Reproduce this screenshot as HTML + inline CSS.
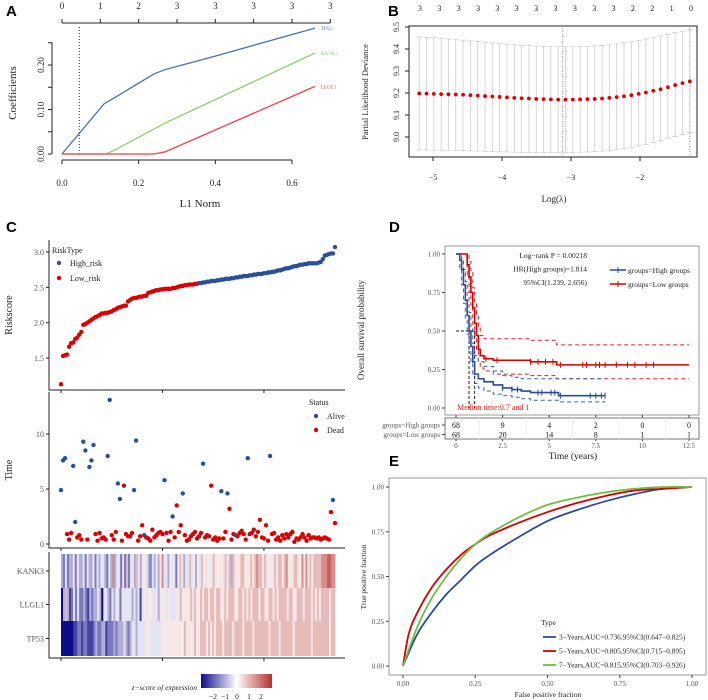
<!DOCTYPE html>
<html><head><meta charset="utf-8"><style>
html,body{margin:0;padding:0;background:#fff;}
svg{display:block;font-family:"Liberation Serif",serif;}
.lbl{font-family:"Liberation Sans",sans-serif;font-weight:bold;font-size:15px;}
</style></head><body>
<svg id="fig" width="708" height="700" viewBox="0 0 708 700" xmlns="http://www.w3.org/2000/svg">
<text class="lbl" x="6" y="16">A</text>
<text class="lbl" x="388" y="16">B</text>
<text class="lbl" x="6" y="232">C</text>
<text class="lbl" x="389" y="232">D</text>
<text class="lbl" x="389" y="466">E</text>
<g id="A"></g>
<g id="B"></g>
<g id="C"></g>
<g id="D"></g>
<g id="E"></g>
</svg>
<script>
// ---------- Panel A data ----------
const aTP53X=[0,0.11,0.14,0.24,0.27,0.4,0.66];
const aTP53Y=[0,0.113,0.128,0.18,0.19,0.22,0.283];
const aKANK3X=[0,0.115,0.14,0.27,0.66];
const aKANK3Y=[0,0,0.01,0.07,0.227];
const aLLGL1X=[0,0.24,0.27,0.66];
const aLLGL1Y=[0,0,0.005,0.152];
const aTopLabels=["0","1","2","3","3","3","3","3"];
const aXTicks=[0,0.2,0.4,0.6];
const aYTicks=["0.00","0.10","0.20"];
const aLambdaMin=0.045;
// ---------- Panel B data ----------
const bLogLambda=[-5.2,-5.094,-4.988,-4.882,-4.776,-4.67,-4.564,-4.458,-4.352,-4.246,-4.14,-4.034,-3.928,-3.822,-3.716,-3.61,-3.504,-3.398,-3.292,-3.186,-3.08,-2.974,-2.868,-2.762,-2.656,-2.55,-2.444,-2.338,-2.232,-2.126,-2.02,-1.914,-1.808,-1.702,-1.596,-1.49,-1.384,-1.278];
const bDev=[9.198,9.197,9.196,9.195,9.194,9.193,9.192,9.19,9.188,9.186,9.184,9.182,9.18,9.178,9.176,9.175,9.173,9.172,9.171,9.17,9.17,9.17,9.171,9.172,9.173,9.175,9.178,9.181,9.185,9.19,9.196,9.202,9.21,9.217,9.226,9.236,9.245,9.253];
const bUpper=[9.455,9.453,9.451,9.449,9.446,9.443,9.44,9.437,9.434,9.431,9.428,9.425,9.422,9.419,9.417,9.415,9.413,9.412,9.411,9.41,9.41,9.41,9.411,9.412,9.414,9.416,9.419,9.423,9.428,9.433,9.439,9.445,9.452,9.459,9.466,9.474,9.481,9.487];
const bLower=[8.941,8.941,8.94,8.94,8.939,8.939,8.938,8.937,8.936,8.935,8.934,8.933,8.932,8.931,8.93,8.93,8.93,8.93,8.93,8.93,8.93,8.93,8.931,8.932,8.934,8.936,8.939,8.943,8.948,8.954,8.96,8.967,8.975,8.984,8.993,9.003,9.012,9.02];
const bTopLabels=["3","3","3","3","3","3","3","3","3","3","3","2","2","1","0"];
const bXTicks=[-5,-4,-3,-2];
const bYTicks=[9.0,9.1,9.2,9.3,9.4,9.5];
const bVLines=[-3.12,-1.278];
// ---------- Panel C data ----------
const cRisk=[1.13,1.53,1.54,1.55,1.66,1.71,1.72,1.77,1.79,1.83,
1.87,1.97,1.98,2.00,2.02,2.04,2.06,2.08,2.09,2.11,
2.13,2.13,2.14,2.14,2.15,2.16,2.18,2.19,2.21,2.22,
2.23,2.24,2.24,2.30,2.32,2.34,2.35,2.35,2.36,2.37,
2.37,2.38,2.38,2.42,2.43,2.44,2.45,2.46,2.46,2.47,
2.47,2.48,2.48,2.48,2.48,2.49,2.49,2.50,2.51,2.52,
2.52,2.53,2.53,2.54,2.54,2.54,2.55,2.55,2.56,2.56,
2.57,2.57,2.58,2.58,2.59,2.59,2.59,2.60,2.60,2.61,
2.61,2.62,2.62,2.62,2.63,2.63,2.64,2.64,2.65,2.65,
2.66,2.66,2.66,2.67,2.67,2.68,2.68,2.69,2.69,2.69,
2.70,2.70,2.71,2.71,2.72,2.72,2.73,2.74,2.74,2.75,
2.76,2.77,2.77,2.78,2.79,2.80,2.80,2.81,2.82,2.82,
2.83,2.83,2.84,2.84,2.84,2.84,2.84,2.85,2.86,2.90,
2.95,2.96,2.97,2.98,2.98,3.07];
const cLowCount=68;
const cTime=[4.9,7.6,7.8,0.9,0.4,1.0,7.1,2.0,0.6,0.8,
0.4,9.3,8.5,0.4,7.0,7.6,9.0,0.9,0.3,1.0,
0.5,0.6,0.4,8.0,13.1,0.8,0.4,1.1,5.5,4.1,
0.3,5.3,0.9,0.7,0.7,1.0,4.9,9.4,0.3,0.7,
1.7,0.8,0.6,0.5,0.3,1.3,0.6,0.8,1.0,1.1,
0.9,5.8,1.0,0.3,1.1,2.5,0.6,3.5,1.1,1.7,
4.6,0.8,0.3,0.4,0.7,0.9,1.1,0.5,0.7,1.0,
7.3,0.6,0.8,0.7,5.3,0.4,0.6,0.3,0.5,4.8,
0.5,1.1,4.6,3.2,0.4,0.9,0.8,0.7,1.0,1.2,
0.9,0.4,7.8,0.9,1.0,1.3,0.7,1.1,2.2,0.6,
0.5,1.7,0.3,8.0,0.9,1.0,0.4,0.6,0.3,0.8,
0.5,0.9,0.6,0.9,1.1,0.2,0.5,0.4,0.6,0.9,
0.6,0.3,0.8,0.5,0.6,0.6,0.5,0.6,0.4,0.5,
0.6,0.5,0.4,2.9,4.0,1.9];
const cAliveIdx=[0,1,2,6,7,11,12,14,15,16,23,24,28,29,36,37,41,51,55,60,70,79,82,86,92,103,134];
const cGenes=["KANK3","LLGL1","TP53"];
const cHeatKANK3="3242334253342433524344324373442426244364355432435357443544256534464535465455465555465636555665556567665645556566567555665575756566667778877";
const cHeatLLGL1="0363124242232132335304432435424444434341454554443555454445465555646556566566566556566655665656566656655665656666566556665666565656666566";
const cHeatTP53="0000001122122111232233122232333432344344445544444455555555555655556556665656566656666566665666656666666566665666666566666666566666666566";
// ---------- Panel D data ----------
const dHighT=[0,0.2,0.3,0.4,0.5,0.6,0.7,0.8,0.9,1.0,1.2,1.5,2.0,2.5,3.0,3.5,4.0,5.5,8.0];
const dHighS=[1,0.96,0.9,0.8,0.7,0.6,0.5,0.4,0.3,0.22,0.19,0.17,0.15,0.13,0.12,0.11,0.10,0.08,0.08];
const dHighU=[1,1,0.97,0.9,0.82,0.72,0.62,0.52,0.42,0.34,0.3,0.27,0.24,0.21,0.2,0.19,0.19,0.19,0.19];
const dHighL=[1,0.9,0.8,0.68,0.58,0.48,0.38,0.3,0.22,0.16,0.13,0.11,0.09,0.08,0.07,0.06,0.05,0.04,0.04];
const dLowT=[0,0.6,0.7,0.8,0.9,1.0,1.1,1.2,1.3,1.5,2.0,4.0,5.4,12.5];
const dLowS=[1,0.93,0.85,0.75,0.65,0.55,0.47,0.38,0.34,0.32,0.31,0.30,0.28,0.28];
const dLowU=[1,1,0.95,0.88,0.78,0.68,0.6,0.52,0.47,0.45,0.45,0.44,0.41,0.41];
const dLowL=[1,0.85,0.75,0.65,0.54,0.45,0.38,0.3,0.26,0.24,0.22,0.21,0.19,0.19];
const dHighCens=[2.5,3.0,3.3,4.4,4.6,5.1,5.3,5.6,7.2,7.5,7.8,8.0];
const dLowCens=[1.6,2.2,4.0,4.4,4.8,5.2,5.6,6.8,7.0,7.5,7.7,8.0,8.6,9.2,9.6,10.2,10.6];
const dXTicks=[0,2.5,5,7.5,10,12.5];
const dXTickLabels=["0","2.5","5","7.5","10","12.5"];
const dYTicks=[0,0.25,0.5,0.75,1];
const dYTickLabels=["0.00","0.25","0.50","0.75","1.00"];
const dRiskHigh=[68,9,4,2,0,0];
const dRiskLow=[68,20,14,8,1,1];
const dMedians=[0.7,1.0];
// ---------- Panel E data ----------
const e3X=[0,0.05,0.1,0.15,0.2,0.25,0.3,0.4,0.5,0.6,0.7,0.8,0.9,1];
const e3Y=[0,0.18,0.3,0.4,0.48,0.56,0.62,0.72,0.81,0.87,0.92,0.96,0.99,1];
const e5X=[0,0.02,0.05,0.1,0.15,0.2,0.25,0.3,0.4,0.5,0.6,0.7,0.8,0.9,1];
const e5Y=[0,0.18,0.3,0.44,0.54,0.62,0.68,0.73,0.8,0.86,0.91,0.95,0.98,0.99,1];
const e7X=[0,0.05,0.1,0.15,0.2,0.25,0.3,0.4,0.5,0.6,0.7,0.8,0.9,1];
const e7Y=[0,0.22,0.38,0.5,0.6,0.68,0.74,0.83,0.9,0.94,0.97,0.99,1,1];
const eLegend=["3\u2212Years,AUC=0.736,95%CI(0.647\u22120.825)","5\u2212Years,AUC=0.805,95%CI(0.715\u22120.895)","7\u2212Years,AUC=0.815,95%CI(0.703\u22120.926)"];
const eTicks=[0,0.25,0.5,0.75,1];
const eTickLabels=["0.00","0.25","0.50","0.75","1.00"];

const NS="http://www.w3.org/2000/svg";
function el(tag,parent,attrs,text){const e=document.createElementNS(NS,tag);for(const k in attrs)e.setAttribute(k,attrs[k]);if(text!==undefined)e.textContent=text;parent.appendChild(e);return e;}
const BLUE="#2b4f9a";

// ===== Panel A =====
(function(){
const g=document.getElementById('A');
const x=v=>62+v*383.3, y=v=>154-v*445;
let e;
e=el('line',g,{x1:52,y1:43,x2:52,y2:154,stroke:'#222'});

for(let v=0;v<=0.25001;v+=0.05){el('line',g,{x1:48,y1:y(v),x2:52,y2:y(v),stroke:'#222'});}
aYTicks.forEach(s=>{e=el('text',g,{x:44,y:y(+s),'text-anchor':'middle',transform:`rotate(-90 44 ${y(+s)})`,style:'font-size:9px;fill:#222'},s);
});
e=el('line',g,{x1:x(0),y1:160,x2:x(0.6),y2:160,stroke:'#222'});

aXTicks.forEach(v=>{el('line',g,{x1:x(v),y1:160,x2:x(v),y2:164,stroke:'#222'});
e=el('text',g,{x:x(v),y:186,'text-anchor':'middle',style:'font-size:9px;fill:#222'},v.toFixed(1));
});
e=el('line',g,{x1:x(0),y1:23,x2:x(0.7),y2:23,stroke:'#222'});

aTopLabels.forEach((s,i)=>{el('line',g,{x1:x(i*0.1),y1:23,x2:x(i*0.1),y2:19,stroke:'#222'});
e=el('text',g,{x:x(i*0.1),y:9,'text-anchor':'middle',style:'font-size:9px;fill:#222'},s);
});
e=el('text',g,{x:200,y:207,'text-anchor':'middle',style:'font-size:11px;fill:#222'},'L1 Norm');

e=el('text',g,{x:16,y:93,'text-anchor':'middle',transform:'rotate(-90 16 93)',style:'font-size:11px;fill:#222'},'Coefficients');

e=el('line',g,{x1:x(aLambdaMin),y1:27,x2:x(aLambdaMin),y2:154,stroke:'#222','stroke-dasharray':'1,2'});

const series=[[aTP53X,aTP53Y,'#4a72b0','TP53'],[aKANK3X,aKANK3Y,'#8fcf6a','KANK3'],[aLLGL1X,aLLGL1Y,'#e8424a','LLGL1']];
series.forEach(s=>{const pts=s[0].map((v,i)=>x(v)+','+y(s[1][i])).join(' ');
e=el('polyline',g,{points:pts,fill:'none',stroke:s[2],'stroke-width':1.3});

const n=s[0].length-1;
e=el('text',g,{x:x(s[0][n])+6,y:y(s[1][n])+2,style:`font-size:5px;fill:${s[2]}`},s[3]);
});
})();

// ===== Panel B =====
(function(){
const g=document.getElementById('B');
const x=v=>571+(v+3)*69, y=v=>137-(v-9.0)*220;
let e=el('rect',g,{x:409,y:26,width:288,height:131,fill:'none',stroke:'#222'});

bXTicks.forEach(v=>{el('line',g,{x1:x(v),y1:157,x2:x(v),y2:161,stroke:'#222'});
e=el('text',g,{x:x(v),y:180,'text-anchor':'middle',style:'font-size:8px;fill:#222'},'\u2212'+Math.abs(v));
});
bYTicks.forEach(v=>{el('line',g,{x1:405,y1:y(v),x2:409,y2:y(v),stroke:'#222'});
e=el('text',g,{x:399,y:y(v),'text-anchor':'middle',transform:`rotate(-90 399 ${y(v)})`,style:'font-size:8px;fill:#222'},v.toFixed(1));
});
bTopLabels.forEach((s,i)=>{const xx=420+i*(691-420)/(bTopLabels.length-1);
e=el('text',g,{x:xx,y:11,'text-anchor':'middle',style:'font-size:8px;fill:#222'},s);
});
e=el('text',g,{x:554,y:202,'text-anchor':'middle',style:'font-size:9px;fill:#222'},'Log(\u03bb)');

e=el('text',g,{x:368,y:92,'text-anchor':'middle',transform:'rotate(-90 368 92)',style:'font-size:8.5px;fill:#222'},'Partial Likelihood Deviance');

bVLines.forEach(v=>{e=el('line',g,{x1:x(v),y1:26,x2:x(v),y2:157,stroke:'#888','stroke-dasharray':'1,1.5'});
});
bLogLambda.forEach((v,i)=>{const xx=x(v);
e=el('path',g,{d:`M${xx},${y(bLower[i])}V${y(bUpper[i])}M${xx-3},${y(bUpper[i])}H${xx+3}M${xx-3},${y(bLower[i])}H${xx+3}`,stroke:'#c8c8c8','stroke-width':0.7,fill:'none'});

e=el('circle',g,{cx:xx,cy:y(bDev[i]),r:1.9,fill:'#e00000'});
});
})();

// ===== Panel C =====
(function(){
const g=document.getElementById('C');
const n=cRisk.length;
const x=i=>61+i*(335-61)/(n-1);
const yr=v=>252-(v-3.0)*70.7;
const yt=v=>544-v*11;
let e;
e=el('path',g,{d:'M49,240V390H345',fill:'none',stroke:'#222'});

[1.5,2.0,2.5,3.0].forEach(v=>{el('line',g,{x1:46,y1:yr(v),x2:49,y2:yr(v),stroke:'#222'});
e=el('text',g,{x:44,y:yr(v)+3,'text-anchor':'end',style:'font-size:8px;fill:#555'},v.toFixed(1));
});
[0,50,100].forEach(i=>{el('line',g,{x1:x(i),y1:390,x2:x(i),y2:393,stroke:'#222'});});
e=el('text',g,{x:12,y:315,'text-anchor':'middle',transform:'rotate(-90 12 315)',style:'font-size:10px;fill:#222'},'Riskscore');

cRisk.forEach((v,i)=>{e=el('circle',g,{cx:x(i),cy:yr(v),r:2.2,fill:i<cLowCount?'#d90000':BLUE});
});
e=el('text',g,{x:52,y:253,style:'font-size:8px;fill:#222'},'RiskType');

e=el('circle',g,{cx:59,cy:263,r:2.2,fill:BLUE});
e=el('text',g,{x:70,y:266,style:'font-size:8px;fill:#222'},'High_risk');
e=el('circle',g,{cx:59,cy:278,r:2.2,fill:'#d90000'});
e=el('text',g,{x:70,y:281,style:'font-size:8px;fill:#222'},'Low_risk');
e=el('path',g,{d:'M49,392V548H345',fill:'none',stroke:'#222'});

[0,5,10].forEach(v=>{el('line',g,{x1:46,y1:yt(v),x2:49,y2:yt(v),stroke:'#222'});
e=el('text',g,{x:44,y:yt(v)+3,'text-anchor':'end',style:'font-size:8px;fill:#555'},String(v));
});
[0,50,100].forEach(i=>{el('line',g,{x1:x(i),y1:548,x2:x(i),y2:551,stroke:'#222'});});
e=el('text',g,{x:12,y:470,'text-anchor':'middle',transform:'rotate(-90 12 470)',style:'font-size:10px;fill:#222'},'Time');

cTime.forEach((v,i)=>{const alive=cAliveIdx.indexOf(i)>=0;
e=el('circle',g,{cx:x(i),cy:yt(v),r:2.2,fill:alive?BLUE:'#d90000'});
});
e=el('text',g,{x:309,y:405,style:'font-size:8px;fill:#222'},'Status');
e=el('circle',g,{cx:316,cy:416,r:2.2,fill:BLUE});
e=el('text',g,{x:327,y:419,style:'font-size:8px;fill:#222'},'Alive');
e=el('circle',g,{cx:316,cy:430,r:2.2,fill:'#d90000'});
e=el('text',g,{x:327,y:433,style:'font-size:8px;fill:#222'},'Dead');
function col(d){const z=(d-4.5)/4.5;const lo=[13,13,138],hi=[180,50,45],w=[255,255,255];
const t=Math.min(1,Math.abs(z));const c=z<0?lo:hi;
return 'rgb('+w.map((a,k)=>Math.round(a+(c[k]-a)*t)).join(',')+')';}
e=el('path',g,{d:'M49,552V658H345',fill:'none',stroke:'#222'});

[0,50,100].forEach(i=>{el('line',g,{x1:x(i),y1:658,x2:x(i),y2:661,stroke:'#222'});});
const rows=[cHeatKANK3,cHeatLLGL1,cHeatTP53];
const rowTop=[554,588,621],rowH=[34,33,35];
rows.forEach((s,r)=>{const w=(335-61)/s.length;
for(let i=0;i<s.length;i++){e=el('rect',g,{x:61+i*w,y:rowTop[r],width:w+0.4,height:rowH[r],fill:col(+s[i])});
}
el('line',g,{x1:46,y1:rowTop[r]+rowH[r]/2,x2:49,y2:rowTop[r]+rowH[r]/2,stroke:'#222'});
e=el('text',g,{x:44,y:rowTop[r]+rowH[r]/2+3,'text-anchor':'end',style:'font-size:8px;fill:#555'},cGenes[r]);
});
const grad=el('linearGradient',el('defs',g,{}),{id:'zg'});
[[0,'rgb(13,13,138)'],[0.5,'#fff'],[1,'rgb(180,50,45)']].forEach(s=>el('stop',grad,{offset:s[0],'stop-color':s[1]}));
e=el('rect',g,{x:201,y:674,width:71,height:14,fill:'url(#zg)'});

e=el('text',g,{x:197,y:690,'text-anchor':'end',style:'font-size:7.5px;font-style:italic;fill:#222'},'z\u2212score of expression');

[-2,-1,0,1,2].forEach(v=>{e=el('text',g,{x:237+v*12,y:699,'text-anchor':'middle',style:'font-size:7.5px;fill:#222'},v<0?'\u2212'+(-v):String(v));
});
})();

// ===== Panel D =====
(function(){
const g=document.getElementById('D');
const x=t=>456+t*18.64, y=s=>408-s*154;
let e=el('rect',g,{x:445,y:246,width:254,height:169,fill:'none',stroke:'#999'});

dYTicks.forEach((v,i)=>{el('line',g,{x1:442,y1:y(v),x2:445,y2:y(v),stroke:'#444'});
e=el('text',g,{x:440,y:y(v)+2.5,'text-anchor':'end',style:'font-size:7px;fill:#555'},dYTickLabels[i]);
});
dXTicks.forEach(v=>{el('line',g,{x1:x(v),y1:415,x2:x(v),y2:418,stroke:'#444'});});
e=el('text',g,{x:364,y:330,'text-anchor':'middle',transform:'rotate(-90 364 330)',style:'font-size:9px;fill:#222'},'Overall survival probability');

function step(T,S){let d=`M${x(T[0])},${y(S[0])}`;for(let i=1;i<T.length;i++){d+=`H${x(T[i])}V${y(S[i])}`;}return d;}
function interp(T,S,t){let s=S[0];for(let i=0;i<T.length;i++){if(T[i]<=t)s=S[i];}return s;}
[[dLowT,dLowU,'#e02020'],[dLowT,dLowL,'#e02020'],[dHighT,dHighU,'#3a5fb0'],[dHighT,dHighL,'#3a5fb0']].forEach(c=>{
e=el('path',g,{d:step(c[0],c[1]),fill:'none',stroke:c[2],'stroke-width':1,'stroke-dasharray':'4,3'});
});
e=el('path',g,{d:`M${x(0)},${y(0.5)}H${x(dMedians[1])}M${x(dMedians[0])},${y(0.5)}V${y(0)}M${x(dMedians[1])},${y(0.5)}V${y(0)}`,fill:'none',stroke:'#222','stroke-dasharray':'3,2'});

e=el('path',g,{d:step(dLowT,dLowS),fill:'none',stroke:'#d40000','stroke-width':1.6});

e=el('path',g,{d:step(dHighT,dHighS),fill:'none',stroke:'#2a4c9a','stroke-width':1.6});

dHighCens.forEach(t=>{const yy=y(interp(dHighT,dHighS,t));e=el('line',g,{x1:x(t),y1:yy-3,x2:x(t),y2:yy+3,stroke:'#2a4c9a'});
});
dLowCens.forEach(t=>{const yy=y(interp(dLowT,dLowS,t));e=el('line',g,{x1:x(t),y1:yy-3,x2:x(t),y2:yy+3,stroke:'#d40000'});
});
e=el('text',g,{x:457,y:410,style:'font-size:8px;fill:#e02020'},'Median time:0.7 and 1');

['Log\u2212rank P = 0.00218','HR(High groups)=1.814','95%CI(1.239, 2.656)'].forEach((s,i)=>{
e=el('text',g,{x:587,y:258+i*13.5,'text-anchor':'end',style:'font-size:7.5px;fill:#222'},s);
});
e=el('line',g,{x1:610,y1:270,x2:626,y2:270,stroke:'#2a4c9a','stroke-width':1.5});
el('line',g,{x1:618,y1:267,x2:618,y2:273,stroke:'#2a4c9a'});
e=el('text',g,{x:628,y:273,style:'font-size:7.5px;fill:#222'},'groups=High groups');
e=el('line',g,{x1:610,y1:284,x2:626,y2:284,stroke:'#d40000','stroke-width':1.5});
el('line',g,{x1:618,y1:281,x2:618,y2:287,stroke:'#d40000'});
e=el('text',g,{x:628,y:287,style:'font-size:7.5px;fill:#222'},'groups=Low groups');
e=el('rect',g,{x:445,y:418,width:254,height:21,fill:'none',stroke:'#777'});

for(let t=1.25;t<12.5;t+=1.25){el('line',g,{x1:x(t),y1:418,x2:x(t),y2:439,stroke:'#eee'});}
[[dRiskHigh,'groups=High groups',425],[dRiskLow,'groups=Low groups',434.5]].forEach(r=>{
e=el('text',g,{x:440,y:r[2]+2.5,'text-anchor':'end',style:'font-size:7px;fill:#555'},r[1]);

el('line',g,{x1:442,y1:r[2],x2:445,y2:r[2],stroke:'#444'});
r[0].forEach((v,i)=>{e=el('text',g,{x:x(dXTicks[i]),y:r[2]+3,'text-anchor':'middle',style:'font-size:8px;fill:#222'},String(v));
});});
dXTicks.forEach((v,i)=>{el('line',g,{x1:x(v),y1:439,x2:x(v),y2:441,stroke:'#444'});
e=el('text',g,{x:x(v),y:448,'text-anchor':'middle',style:'font-size:7px;fill:#555'},dXTickLabels[i]);
});
e=el('text',g,{x:573,y:459,'text-anchor':'middle',style:'font-size:9.5px;fill:#222'},'Time (years)');

})();

// ===== Panel E =====
(function(){
const g=document.getElementById('E');
const x=v=>403+v*289, y=v=>666-v*179;
let e=el('rect',g,{x:389,y:478,width:317,height:197,fill:'none',stroke:'#999'});

eTicks.forEach((v,i)=>{el('line',g,{x1:386,y1:y(v),x2:389,y2:y(v),stroke:'#444'});
e=el('text',g,{x:384,y:y(v)+2.5,'text-anchor':'end',style:'font-size:7px;fill:#555'},eTickLabels[i]);

el('line',g,{x1:x(v),y1:675,x2:x(v),y2:678,stroke:'#444'});
e=el('text',g,{x:x(v),y:686,'text-anchor':'middle',style:'font-size:7px;fill:#555'},eTickLabels[i]);
});
e=el('text',g,{x:366,y:577,'text-anchor':'middle',transform:'rotate(-90 366 577)',style:'font-size:7.5px;fill:#222'},'True positive fraction');

e=el('text',g,{x:548,y:697,'text-anchor':'middle',style:'font-size:7.5px;fill:#222'},'False positive fraction');

function smooth(X,Y){const p=X.map((v,i)=>[x(v),y(Y[i])]);let d=`M${p[0][0]},${p[0][1]}`;
for(let i=0;i<p.length-1;i++){const p0=p[Math.max(0,i-1)],p1=p[i],p2=p[i+1],p3=p[Math.min(p.length-1,i+2)];
d+=`C${p1[0]+(p2[0]-p0[0])/6},${p1[1]+(p2[1]-p0[1])/6} ${p2[0]-(p3[0]-p1[0])/6},${p2[1]-(p3[1]-p1[1])/6} ${p2[0]},${p2[1]}`;}return d;}
const curves=[[e3X,e3Y,'#2a4c9a','e-roc-3-years'],[e5X,e5Y,'#d40000','e-roc-5-years'],[e7X,e7Y,'#6cbf45','e-roc-7-years']];
curves.forEach(c=>{e=el('path',g,{d:smooth(c[0],c[1]),fill:'none',stroke:c[2],'stroke-width':1.8});
});
e=el('text',g,{x:541,y:625,style:'font-size:7.5px;fill:#222'},'Type');

eLegend.forEach((s,i)=>{const yy=637+i*14;
e=el('line',g,{x1:543,y1:yy,x2:556,y2:yy,stroke:curves[i][2],'stroke-width':1.8});

e=el('text',g,{x:559,y:yy+2.5,style:'font-size:7.3px;fill:#222'},s);
});
})();
</script>
</body></html>
